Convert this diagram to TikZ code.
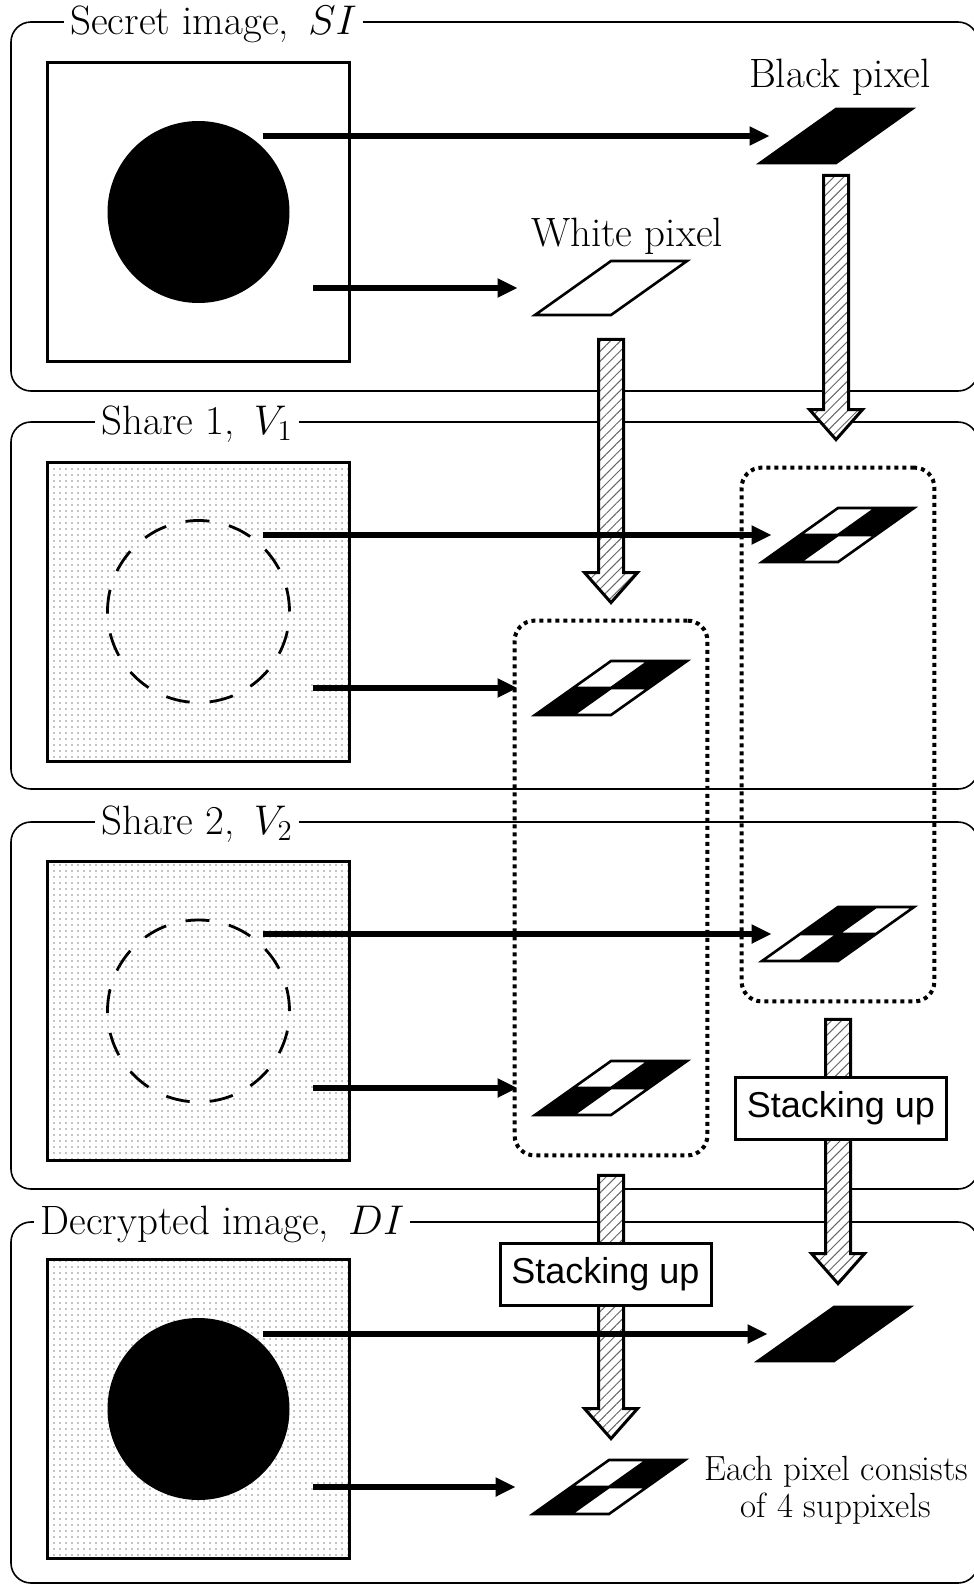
\documentclass[tikz,border=0pt]{standalone}
\usepackage{fontspec}
\newfontfamily\vcSans{Liberation Sans}
\usetikzlibrary{arrows.meta,patterns.meta,fit,calc}
\tikzset{
  vcFrame/.style={draw,line width=0.8pt,rounded corners=10pt},
  vcTitle/.style={fill=white,anchor=base west,inner xsep=3pt,inner ysep=3pt,font=\fontsize{20.5}{24}\selectfont},
  vcLabel/.style={anchor=base,font=\fontsize{20.5}{24}\selectfont},
  vcImage/.style={draw,line width=1.5pt,minimum width=151pt,minimum height=149.5pt,inner sep=0pt},
  vcShare/.style={vcImage,pattern={Dots[distance=3pt,radius=0.35pt]}},
  vcDisc/.style={circle,fill=black,minimum size=91pt,inner sep=0pt},
  vcGhost/.style={circle,draw,line width=1.4pt,dash pattern=on 12pt off 10pt,minimum size=91pt,inner sep=0pt},
  vcSlot/.style={minimum width=76pt,minimum height=27pt,inner sep=0pt},
  vcGroup/.style={draw,line width=2pt,dash pattern=on 2pt off 2pt,rounded corners=10pt,inner xsep=10pt,inner ysep=20pt},
  vcArrow/.style={-{Triangle[length=10pt,width=9pt]},line width=2.8pt},
  vcHatch/.style={line width=1.5pt,line join=miter,preaction={fill=white},
    pattern={Lines[angle=45,distance=3.5pt,line width=0.5pt]},pattern color=black!60},
  vcStackBox/.style={draw,fill=white,line width=1.5pt,minimum width=105.5pt,minimum height=31pt,
    inner sep=0pt,font=\vcSans\fontsize{18}{20}\selectfont},
  pics/vcplain/.style={code={
    \draw[fill=#1,line width=1.3pt,line join=miter] (-76,27) -- (0,27) -- (76,-27) -- (0,-27) -- cycle;}},
  pics/vcpixel/.style n args={4}{code={
    \fill[#1] (-76,27) -- (-38,27) -- (0,0) -- (-38,0) -- cycle;
    \fill[#2] (-38,27) -- (0,27) -- (38,0) -- (0,0) -- cycle;
    \fill[#3] (-38,0) -- (0,0) -- (38,-27) -- (0,-27) -- cycle;
    \fill[#4] (0,0) -- (38,0) -- (76,-27) -- (38,-27) -- cycle;
    \draw[line width=1.3pt,line join=miter] (-76,27) -- (0,27) -- (76,-27) -- (0,-27) -- cycle
      (-38,27) -- (38,-27) (-38,0) -- (38,0);}}
}
\newcommand\vcStack[2]{%
  \draw[vcHatch] let \p1=(#1), \p2=(#2) in
    (\x1-6.25pt,\y1) -- (\x1+6.25pt,\y1) -- (\x1+6.25pt,\y2+15pt)
    -- (\x1+13.25pt,\y2+15pt) -- (\x1,\y2) -- (\x1-13.25pt,\y2+15pt)
    -- (\x1-6.25pt,\y2+15pt) -- cycle;}

\begin{document}
\begin{tikzpicture}[x=0.5pt,y=-0.5pt]
\useasboundingbox (0,0) rectangle (974,1585);
\draw[vcFrame] (11,22) rectangle (978,391);
\draw[vcFrame] (11,422) rectangle (978,789);
\draw[vcFrame] (11,822) rectangle (978,1189);
\draw[vcFrame] (11,1222) rectangle (978,1583);
\node[vcTitle] (titleSI) at (64,34) {Secret image,\ \,$SI$};
\node[vcTitle] (titleV1) at (95,434) {Share 1,\ \,$V_1$};
\node[vcTitle] (titleV2) at (95,834) {Share 2,\ \,$V_2$};
\node[vcTitle] (titleDI) at (34,1234) {Decrypted image,\ \,$DI$};

\node[vcImage] (imgSI) at (198.5,212) {};
\node[vcDisc] (discSI) at (imgSI) {};
\node[vcShare] (imgV1) at (198.5,611.5) {};
\node[vcGhost] (ringV1) at (imgV1) {};
\node[vcShare] (imgV2) at (198.5,1011) {};
\node[vcGhost] (ringV2) at (imgV2) {};
\node[vcShare] (imgDI) at (198.5,1409) {};
\node[vcDisc] (discDI) at (imgDI) {};

\coordinate (srcSIb) at (263,136);
\coordinate (srcSIw) at (313,288);
\coordinate (srcV1b) at (263,535);
\coordinate (srcV1w) at (313,688);
\coordinate (srcV2b) at (263,934);
\coordinate (srcV2w) at (313,1088);
\coordinate (srcDIb) at (263,1334);
\coordinate (srcDIw) at (313,1487);

\node[vcSlot] (pxSIb) at (836,136) {};
\pic at (pxSIb) {vcplain=black};
\node[vcSlot] (pxSIw) at (611,288) {};
\pic at (pxSIw) {vcplain=white};
\node[vcSlot] (pxV1b) at (838,535) {};
\pic at (pxV1b) {vcpixel={black}{white}{white}{black}};
\node[vcSlot] (pxV1w) at (611,688) {};
\pic at (pxV1w) {vcpixel={black}{white}{white}{black}};
\node[vcSlot] (pxV2b) at (838,934) {};
\pic at (pxV2b) {vcpixel={white}{black}{black}{white}};
\node[vcSlot] (pxV2w) at (611,1088) {};
\pic at (pxV2w) {vcpixel={black}{white}{white}{black}};
\node[vcSlot] (pxDIb) at (834,1334) {};
\pic at (pxDIb) {vcplain=black};
\node[vcSlot] (pxDIw) at (609,1487) {};
\pic at (pxDIw) {vcpixel={black}{white}{white}{black}};

\node[vcGroup,fit=(pxV1w)(pxV2w)] (grpW) {};
\node[vcGroup,fit=(pxV1b)(pxV2b)] (grpB) {};

\vcStack{[yshift=-6pt]pxSIb.south}{[yshift=13pt]grpB.north}
\vcStack{[yshift=-12pt]pxSIw.south}{[yshift=8pt]grpW.north}
\vcStack{[yshift=-8pt]grpB.south}{[yshift=11.5pt]pxDIb.north}
\vcStack{[yshift=-9pt]grpW.south}{[yshift=10.5pt]pxDIw.north}

\draw[vcArrow] (srcSIb) -- ([xshift=5pt]pxSIb.west);
\draw[vcArrow] (srcSIw) -- ([xshift=-8.5pt]pxSIw.west);
\draw[vcArrow] (srcV1b) -- ([xshift=5pt]pxV1b.west);
\draw[vcArrow] (srcV1w) -- ([xshift=-8.5pt]pxV1w.west);
\draw[vcArrow] (srcV2b) -- ([xshift=5pt]pxV2b.west);
\draw[vcArrow] (srcV2w) -- ([xshift=-8.5pt]pxV2w.west);
\draw[vcArrow] (srcDIb) -- ([xshift=5pt]pxDIb.west);
\draw[vcArrow] (srcDIw) -- ([xshift=-8.5pt]pxDIw.west);

\node[vcStackBox] (stackB) at (841,1108) {Stacking up};
\node[vcStackBox] (stackW) at (605.5,1274) {Stacking up};
\node[vcLabel] (lblB) at (840,87) {Black pixel};
\node[vcLabel] (lblW) at (627,246) {White pixel};
\node[font=\fontsize{17.5}{18.5}\selectfont,align=center] (note) at (836,1490) {Each pixel consists\\of 4 suppixels};
\end{tikzpicture}
\end{document}
